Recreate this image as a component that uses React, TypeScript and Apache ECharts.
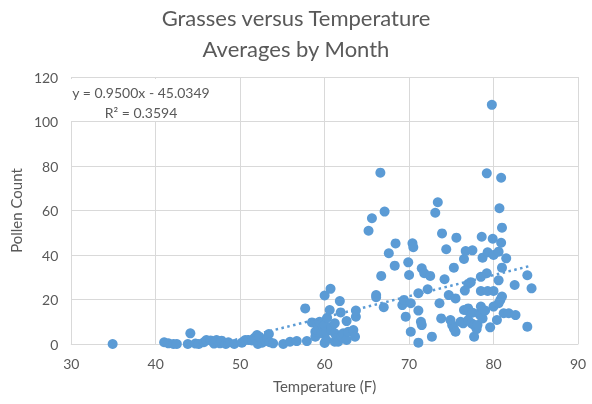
import React, { useEffect, useRef } from "react";
import * as echarts from "echarts";

// [temperature (F), pollen count]
const coolMonths: number[][] = [
  [34.9, 0], [41.0, 0.8], [41.5, 0.3], [42.1, 0], [42.5, 0], [43.8, 0], [44.1, 4.8], [44.7, 0.2],
  [45.1, 0], [45.7, 0.8], [46.0, 1.8], [46.5, 1.6], [46.9, 0.2], [47.2, 1.8], [47.6, 0.3], [47.8, 1.5],
  [48.3, 0], [48.6, 0.8], [49.3, 0], [50.2, 0.6], [50.6, 1.8], [51.0, 1.8], [51.4, 1.6], [51.7, 2.8],
  [52.0, 4.0], [52.1, 0], [52.3, 3.2], [52.6, 0.6], [53.0, 1.5], [53.2, 2.5], [53.4, 4.5], [53.5, 0.8],
  [53.9, 0.3], [55.1, 0], [55.9, 1.0], [56.7, 1.3],
];

const mildMonths: number[][] = [
  [57.7, 16.0], [57.9, 1.3], [58.5, 9.7], [58.9, 3.3], [58.9, 5.5], [59.1, 6.3], [59.1, 9.3], [59.4, 10.0],
  [59.6, 4.8], [59.8, 7.8], [60.0, 21.8], [60.0, 8.5], [60.0, 0.5], [60.2, 1.8], [60.2, 5.5], [60.3, 11.8],
  [60.6, 15.3], [60.7, 24.8], [60.8, 6.3], [60.8, 7.8], [61.2, 1.0], [61.2, 4.8], [61.2, 9.3], [61.4, 2.5],
  [61.6, 1.0], [61.8, 19.3], [61.9, 14.2], [62.0, 3.3], [62.2, 4.8], [62.6, 10.3], [62.6, 1.8], [62.8, 5.5],
  [63.4, 6.3], [63.6, 3.3], [63.7, 12.3], [63.7, 15.0],
];

const warmMonths: number[][] = [
  [65.2, 50.9], [65.6, 56.5], [66.1, 22.0], [66.1, 21.0], [66.6, 77.0], [66.7, 30.6], [67.0, 16.5],
  [67.1, 59.5], [67.6, 40.8], [68.3, 35.2], [68.4, 45.2],
  [69.2, 17.5], [69.4, 19.8], [69.6, 12.3], [69.9, 36.7], [70.0, 31.0], [70.2, 18.3], [70.2, 5.5],
  [70.4, 45.3], [70.5, 43.5], [71.1, 22.8], [71.1, 15.0], [71.1, 0.6], [71.4, 10.0], [71.5, 8.5],
  [71.5, 34.0], [71.8, 31.8], [72.2, 24.6], [72.5, 30.6], [72.7, 3.3],
  [73.1, 59.0], [73.4, 63.7], [73.6, 18.3], [73.8, 11.5], [73.9, 49.7], [74.2, 29.1], [74.4, 42.6],
  [74.7, 22.0], [74.9, 10.8], [75.1, 8.5], [75.3, 34.3], [75.3, 7.0], [75.5, 20.5], [75.5, 5.5], [75.6, 47.8],
  [76.1, 10.0], [76.4, 9.3], [76.5, 15.3], [76.5, 38.2], [76.6, 24.0], [76.7, 41.8], [77.0, 27.0], [77.3, 27.8],
  [77.0, 16.0], [77.1, 14.5], [77.0, 10.8], [77.4, 9.3], [77.5, 14.1], [77.5, 42.1], [77.7, 8.5], [77.7, 3.3],
  [78.0, 6.7], [78.1, 8.5], [78.3, 13.8], [78.4, 13.0], [78.5, 23.8], [78.5, 16.8], [78.5, 30.2], [78.6, 48.2],
  [78.7, 38.8], [78.7, 11.5], [79.0, 15.0], [79.2, 31.8], [79.2, 76.7], [79.3, 41.2], [79.3, 23.8], [79.6, 7.5],
  [79.8, 107.5], [79.9, 47.3], [80.0, 40.0], [80.0, 23.8], [80.0, 16.8], [80.4, 10.8], [80.6, 41.5], [80.6, 28.6],
  [80.6, 18.3], [80.7, 61.0], [80.8, 19.8], [80.9, 45.5], [80.9, 74.7], [81.0, 52.3], [81.0, 34.3], [81.0, 21.3],
  [81.2, 13.8], [81.5, 38.5], [81.8, 13.8], [82.5, 26.5], [82.6, 13.0], [84.0, 30.9], [84.0, 7.8], [84.5, 25.0],
];

const TREND_SLOPE = 0.95;
const TREND_INTERCEPT = -45.0349;
const equationText = "y = 0.9500x - 45.0349";
const r2Text = "R² = 0.3594";

const xTicks = { min: 30, max: 90, interval: 10 };
const yTicks = { min: 0, max: 120, interval: 20 };

const FONT = "Lato, 'Open Sans', sans-serif";
const TEXT = "#595959";
const GRID = "#D9D9D9";
const BLUE = "#5B9BD5";

export default function App() {
  const ref = useRef<HTMLDivElement>(null);
  useEffect(() => {
    if (!ref.current) return;
    const chart = echarts.init(ref.current, undefined, { renderer: "svg" });
    const all = [...coolMonths, ...mildMonths, ...warmMonths];
    const xs = all.map((p) => p[0]);
    const xMin = Math.min(...xs);
    const xMax = Math.max(...xs);
    const trend = [
      [xMin, TREND_SLOPE * xMin + TREND_INTERCEPT],
      [xMax, TREND_SLOPE * xMax + TREND_INTERCEPT],
    ];
    chart.setOption({
      animation: false,
      textStyle: { fontFamily: FONT },
      title: {
        text: "Grasses versus Temperature\nAverages by Month",
        left: "center",
        top: 2,
        padding: 0,
        textStyle: { fontFamily: FONT, fontSize: 22, lineHeight: 31, color: TEXT, fontWeight: "normal" },
      },
      grid: { left: 68, right: 14, top: 77, bottom: 60 },
      xAxis: {
        type: "value",
        min: xTicks.min,
        max: xTicks.max,
        interval: xTicks.interval,
        name: "Temperature (F)",
        nameLocation: "middle",
        nameGap: 34,
        nameTextStyle: { fontFamily: FONT, fontSize: 15, color: TEXT },
        axisLine: { show: true, lineStyle: { color: GRID } },
        axisTick: { show: false },
        axisLabel: { color: TEXT, fontSize: 14, margin: 12, fontFamily: FONT },
        splitLine: { show: true, lineStyle: { color: GRID } },
      },
      yAxis: {
        type: "value",
        min: yTicks.min,
        max: yTicks.max,
        interval: yTicks.interval,
        name: "Pollen Count",
        nameLocation: "middle",
        nameGap: 42,
        nameTextStyle: { fontFamily: FONT, fontSize: 15, color: TEXT },
        axisLine: { show: false },
        axisTick: { show: false },
        axisLabel: { color: TEXT, fontSize: 14, margin: 13, fontFamily: FONT },
        splitLine: { show: true, lineStyle: { color: GRID } },
      },
      graphic: [
        {
          type: "group",
          z: 1,
          children: [
            { type: "rect", shape: { x: 65, y: 79, width: 150, height: 42 }, style: { fill: "#ffffff" }, z: 1 },
            {
              type: "text",
              x: 141,
              y: 92,
              z: 1,
              style: { text: equationText, fill: TEXT, fontSize: 14, fontFamily: FONT, textAlign: "center", textVerticalAlign: "middle" },
            },
            {
              type: "text",
              x: 141,
              y: 112,
              z: 1,
              style: { text: r2Text, fill: TEXT, fontSize: 14, fontFamily: FONT, textAlign: "center", textVerticalAlign: "middle" },
            },
          ],
        },
      ],
      series: [
        {
          type: "scatter",
          data: all,
          symbolSize: 10,
          itemStyle: { color: BLUE, opacity: 1 },
          z: 2,
        },
        {
          type: "line",
          data: trend,
          showSymbol: false,
          symbol: "none",
          clip: true,
          lineStyle: { color: BLUE, width: 2.5, type: [2.5, 3.5] },
          z: 3,
        },
      ],
    });
    return () => chart.dispose();
  }, []);
  return (
    <div
      ref={ref}
      style={{ position: "fixed", left: 0, top: 0, width: 592, height: 404, overflow: "hidden" }}
    />
  );
}
